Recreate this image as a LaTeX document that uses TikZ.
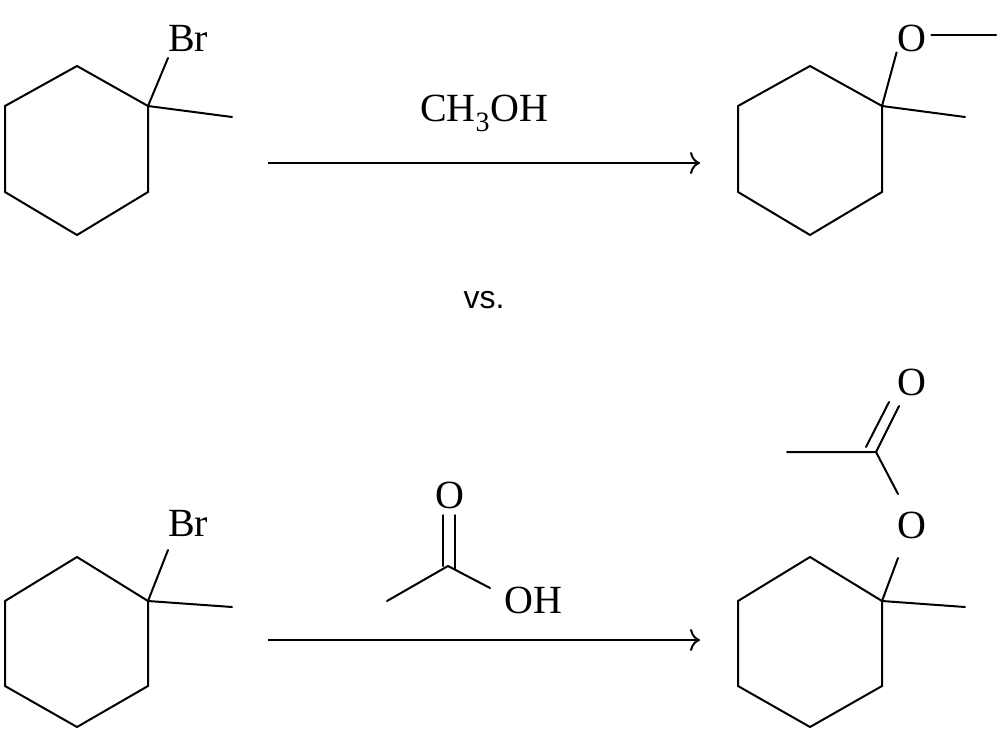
\documentclass[tikz,border=0pt]{standalone}
\usepackage{fontspec}
\setmainfont{Liberation Serif}
\newfontfamily\vsfont{Liberation Sans}
\usetikzlibrary{arrows.meta}
\begin{document}
\begin{tikzpicture}[x=1pt,y=-1pt,line width=2pt,
  bond/.style={draw,line cap=round},
  atom/.style={inner sep=0pt,font=\fontsize{40}{40}\selectfont}]
\useasboundingbox (0,0) rectangle (1000,731);
% top left
\coordinate (a1) at (77,66); \coordinate (a2) at (148,106); \coordinate (a3) at (148,192);
\coordinate (a4) at (77,235); \coordinate (a5) at (5,192); \coordinate (a6) at (5,106);
\draw[bond] (a1)--(a2)--(a3)--(a4)--(a5)--(a6)--cycle;
\coordinate (am) at (232,117); \draw[bond] (a2)--(am);
\node[atom] (br1) at (188,38) {Br};
\draw[bond] (a2)--(168,58);
% top arrow
\coordinate (t1) at (268,163); \coordinate (t2) at (700,163);
\draw[-{To[length=10pt,width=22pt]}] (t1)--(t2);
\node[atom] (meoh) at (484,113) {CH\textsubscript{3}OH};
% top right
\coordinate (b1) at (810,66); \coordinate (b2) at (882,106); \coordinate (b3) at (882,192);
\coordinate (b4) at (810,235); \coordinate (b5) at (738,192); \coordinate (b6) at (738,106);
\draw[bond] (b1)--(b2)--(b3)--(b4)--(b5)--(b6)--cycle;
\coordinate (bm) at (965,117); \draw[bond] (b2)--(bm);
\node[atom] (o1) at (912,38) {O};
\draw[bond] (b2)--(o1.south west);
\coordinate (om) at (996,35); \draw[bond] (o1.east)++(4,-3)--(om);
% vs
\node[font=\vsfont\fontsize{32}{32}\selectfont] (vs) at (484,300) {vs.};
% bottom left
\coordinate (c1) at (77,557); \coordinate (c2) at (148,601); \coordinate (c3) at (148,686);
\coordinate (c4) at (77,727); \coordinate (c5) at (5,686); \coordinate (c6) at (5,601);
\draw[bond] (c1)--(c2)--(c3)--(c4)--(c5)--(c6)--cycle;
\coordinate (cm) at (232,607); \draw[bond] (c2)--(cm);
\node[atom] (br2) at (188,523) {Br};
\draw[bond] (c2)--(168,550);
% bottom arrow
\coordinate (u1) at (268,640); \coordinate (u2) at (700,640);
\draw[-{To[length=10pt,width=22pt]}] (u1)--(u2);
% acetic acid
\coordinate (ac) at (448,566); \coordinate (am2) at (387,601);
\node[atom] (ao) at (450,495) {O};
\node[atom] (aoh) at (533,600) {OH};
\draw[bond] (am2)--(ac)--(490,588);
\draw[bond] (443,566)--(443,515); \draw[bond] (455,569)--(455,515);
% bottom right
\coordinate (d1) at (810,557); \coordinate (d2) at (882,601); \coordinate (d3) at (882,686);
\coordinate (d4) at (810,727); \coordinate (d5) at (738,686); \coordinate (d6) at (738,601);
\draw[bond] (d1)--(d2)--(d3)--(d4)--(d5)--(d6)--cycle;
\coordinate (dm) at (965,607); \draw[bond] (d2)--(dm);
\node[atom] (o2) at (912,525) {O};
\draw[bond] (d2)--(898,558);
\coordinate (cc) at (876,452); \coordinate (cme) at (787,452);
\draw[bond] (cme)--(cc)--(898,494);
\node[atom] (o3) at (912,382) {O};
\draw[bond] (cc)--(899,406); \draw[bond] (866,447)--(889,402);
\end{tikzpicture}
\end{document}
